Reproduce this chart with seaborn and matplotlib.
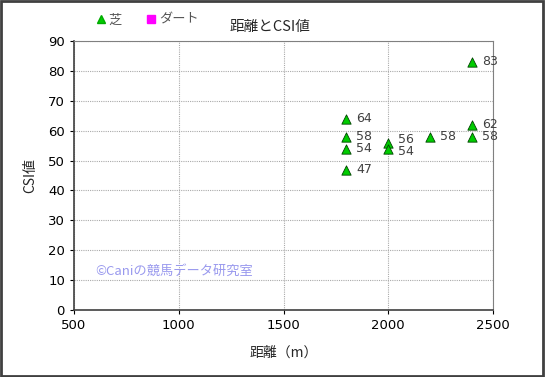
import matplotlib
matplotlib.use("Agg")
import matplotlib.pyplot as plt
import seaborn as sns
import pandas as pd
from matplotlib.lines import Line2D

distance = [1800, 1800, 1800, 1800, 2000, 2000, 2200, 2400, 2400, 2400]
csi = [64, 58, 54, 47, 56, 54, 58, 83, 62, 58]
surface = ["芝"] * 10
x_ticks = [500, 1000, 1500, 2000, 2500]
y_ticks = [0, 10, 20, 30, 40, 50, 60, 70, 80, 90]

sns.set_style("white")
plt.rcParams['font.family'] = ['Noto Sans CJK JP', 'DejaVu Sans']

df = pd.DataFrame({"距離": distance, "CSI": csi, "馬場": surface})

fig = plt.figure(figsize=(5.45, 3.77), dpi=100)
ax = fig.add_axes([0.1358, 0.1777, 0.7688, 0.7135])

sns.scatterplot(data=df, x="距離", y="CSI", marker="^", color="#00cc00",
                edgecolor="#004400", linewidth=0.6, s=45, ax=ax, legend=False, zorder=3)

for i, (d, c) in enumerate(zip(distance, csi)):
    dy = 0
    if d == 2000:
        dy = 2 if c == 56 else -2
    ax.annotate(str(c), (d, c), xytext=(7, dy), textcoords="offset points",
                fontsize=9, color="#404040", va="center", ha="left",
                family=['DejaVu Sans'], zorder=4)

ax.set_xlim(500, 2500)
ax.set_ylim(0, 90)
ax.set_xticks(x_ticks)
ax.set_yticks(y_ticks)
ax.tick_params(axis="both", labelsize=9.5, colors="black", length=3, direction="out")
ax.tick_params(axis="both", which="both", bottom=True, left=True)
for lab in ax.get_xticklabels() + ax.get_yticklabels():
    lab.set_family(['DejaVu Sans'])
ax.grid(True, color="#aaaaaa", linestyle=(0, (1, 1)), linewidth=0.8)
ax.set_axisbelow(True)
for side in ["top", "right"]:
    ax.spines[side].set_color("#808080")
for side in ["left", "bottom"]:
    ax.spines[side].set_color("#404040")
    ax.spines[side].set_linewidth(1.2)

ax.set_xlabel("距離（m）", fontsize=10, labelpad=10)
ax.set_ylabel("CSI値", fontsize=10, labelpad=8)

fig.text(0.495, 0.928, "距離とCSI値", fontsize=10.5, ha="center", va="center")

ax.text(600, 13, "©Caniの競馬データ研究室", fontsize=9.5, color="#9999ee", va="center", ha="left")

handles = [
    Line2D([], [], marker="^", color="#00cc00", markeredgecolor="#00aa00", linestyle="none", markersize=6),
    Line2D([], [], marker="s", color="#ff00ff", markeredgecolor="#ff00ff", linestyle="none", markersize=6),
]
fig.legend(handles, ["芝", "ダート"], loc="center left", bbox_to_anchor=(0.175, 0.947),
           ncol=2, frameon=False, fontsize=9.5, handlelength=0.8, handletextpad=0.2,
           columnspacing=1.8, labelcolor="#555555", borderpad=0, borderaxespad=0)

fig.patches.append(plt.Rectangle((0.002, 0.003), 0.995, 0.994, transform=fig.transFigure,
                                 fill=False, edgecolor="#404040", linewidth=2))

fig.savefig("out.png", dpi=100)
